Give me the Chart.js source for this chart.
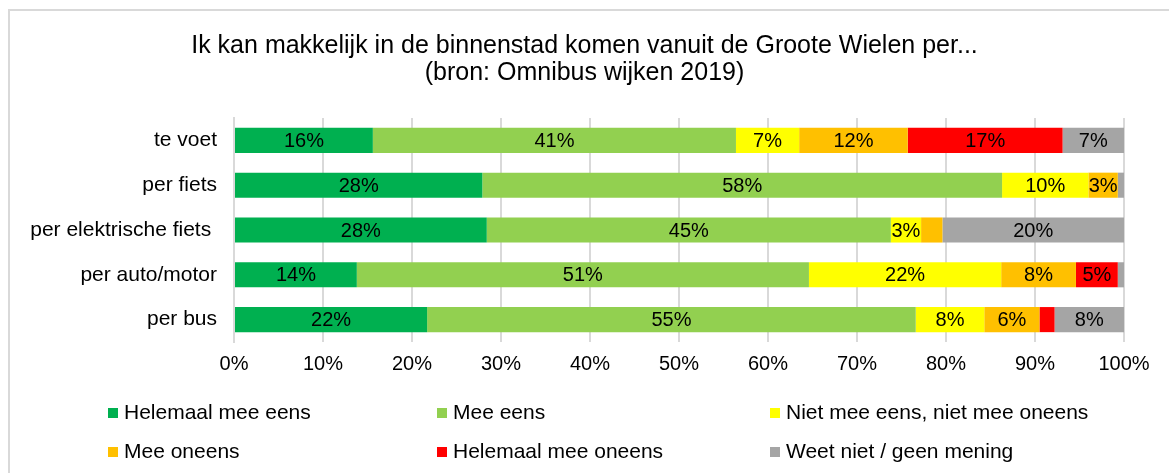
<!DOCTYPE html>
<html lang="nl">
<head>
    <meta charset="UTF-8">
    <title>Ik kan makkelijk in de binnenstad komen</title>
    <script src="https://cdn.jsdelivr.net/npm/chart.js"></script>
    <style>
        body {
            margin: 0;
            padding: 0;
            background: #fff;
            overflow: hidden;
        }

        .frame {
            position: absolute;
            left: 8px;
            top: 9px;
            width: 1300px;
            height: 600px;
            border-left: 2px solid #d9d9d9;
            border-top: 2px solid #d9d9d9;
        }

        #chart {
            position: absolute;
            left: 0;
            top: 0;
        }
    </style>
</head>
<body>
    <div class="frame"></div>
    <canvas id="chart" width="1169" height="473"></canvas>

    <script>
        // data (percentages)
        const categories = ['te voet', 'per fiets', 'per elektrische fiets ', 'per auto/motor', 'per bus'];
        const seriesNames = ['Helemaal mee eens', 'Mee eens', 'Niet mee eens, niet mee oneens',
            'Mee oneens', 'Helemaal mee oneens', 'Weet niet / geen mening'];
        const helemaalMeeEens = [15.6, 27.9, 28.4, 13.8, 21.7];
        const meeEens = [40.8, 58.4, 45.4, 50.8, 54.9];
        const neutraal = [7.1, 9.7, 3.4, 21.6, 7.7];
        const meeOneens = [12.2, 3.3, 2.4, 8.4, 6.2];
        const helemaalMeeOneens = [17.4, 0, 0, 4.7, 1.7];
        const weetNiet = [6.9, 0.7, 20.4, 0.7, 7.8];
        const xTicks = [0, 10, 20, 30, 40, 50, 60, 70, 80, 90, 100];

        const colors = ['#00b050', '#92d050', '#ffff00', '#ffc000', '#ff0000', '#a5a5a5'];
        const allSeries = [helemaalMeeEens, meeEens, neutraal, meeOneens, helemaalMeeOneens, weetNiet];
        const FONT = '"Liberation Sans", Arial, sans-serif';

        // percentage text in the middle of each segment (small ones left out)
        const barLabels = {
            id: 'barLabels',
            afterDatasetsDraw(chart) {
                const ctx = chart.ctx;
                ctx.save();
                ctx.font = '20px ' + FONT;
                ctx.fillStyle = '#000';
                ctx.textAlign = 'center';
                ctx.textBaseline = 'middle';
                chart.data.datasets.forEach((ds, i) => {
                    chart.getDatasetMeta(i).data.forEach((bar, j) => {
                        const v = ds.data[j];
                        if (v < 2.5) return;
                        const p = bar.getProps(['x', 'y', 'base'], true);
                        ctx.fillText(Math.round(v) + '%', (p.x + p.base) / 2, p.y + 1);
                    });
                });
                ctx.restore();
            }
        };

        // legend in three columns, two rows, like the original
        const gridLegend = {
            id: 'gridLegend',
            afterDraw(chart) {
                const ctx = chart.ctx;
                const cols = [108, 437, 770];
                const rows = [413, 452];
                ctx.save();
                ctx.font = '21px ' + FONT;
                ctx.textBaseline = 'middle';
                ctx.textAlign = 'left';
                chart.data.datasets.forEach((ds, i) => {
                    const x = cols[i % 3];
                    const y = rows[Math.floor(i / 3)];
                    ctx.fillStyle = ds.backgroundColor;
                    ctx.fillRect(x, y - 5, 10, 10);
                    ctx.fillStyle = '#000';
                    ctx.fillText(ds.label, x + 16, y);
                });
                ctx.restore();
            }
        };

        new Chart(document.getElementById('chart'), {
            type: 'bar',
            data: {
                labels: categories,
                datasets: allSeries.map((values, i) => ({
                    label: seriesNames[i],
                    data: values,
                    backgroundColor: colors[i],
                    borderWidth: 0,
                    categoryPercentage: 1,
                    barPercentage: 0.56
                }))
            },
            options: {
                indexAxis: 'y',
                responsive: false,
                animation: false,
                devicePixelRatio: 1,
                layout: {
                    padding: { left: 0, right: 0, top: 0, bottom: 91 }
                },
                plugins: {
                    legend: { display: false },
                    tooltip: { enabled: false },
                    title: {
                        display: true,
                        text: ['Ik kan makkelijk in de binnenstad komen vanuit de Groote Wielen per...',
                            '(bron: Omnibus wijken 2019)'],
                        color: '#000',
                        font: { family: FONT, size: 25, weight: 'normal', lineHeight: 1.1 },
                        padding: { top: 32, bottom: 31 }
                    }
                },
                scales: {
                    x: {
                        stacked: true,
                        min: 0,
                        max: 100,
                        afterBuildTicks: (scale) => {
                            scale.ticks = xTicks.map(v => ({ value: v }));
                        },
                        afterFit: (scale) => { scale.height = 40; },
                        grid: { color: '#d9d9d9', lineWidth: 2, drawTicks: false },
                        border: { display: false },
                        ticks: {
                            color: '#000',
                            padding: 10,
                            font: { family: FONT, size: 20 },
                            callback: (v) => v + '%'
                        }
                    },
                    y: {
                        stacked: true,
                        afterFit: (scale) => { scale.width = 234; },
                        grid: { display: false, drawTicks: false },
                        border: { display: true, color: '#d9d9d9', width: 2 },
                        ticks: {
                            color: '#000',
                            padding: 17,
                            font: { family: FONT, size: 21 }
                        }
                    },
                    // empty spacer on the right so the title stays centred on the whole canvas
                    spacer: {
                        type: 'linear',
                        position: 'right',
                        afterFit: (scale) => { scale.width = 45; },
                        grid: { display: false },
                        border: { display: false },
                        ticks: { display: false }
                    }
                }
            },
            plugins: [barLabels, gridLegend]
        });
    </script>
</body>
</html>
